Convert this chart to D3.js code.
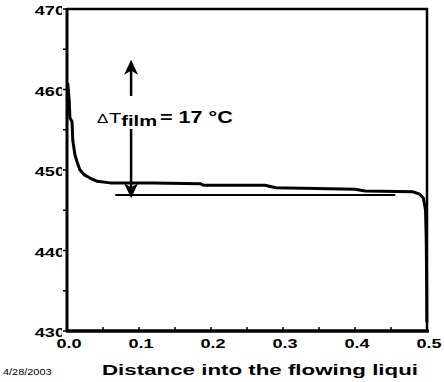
<!DOCTYPE html>
<html>
<head>
<meta charset="utf-8">
<script src="https://cdn.jsdelivr.net/npm/d3@7"></script>
<style>
  body { margin: 0; background: #fff; }
  svg { display: block; font-family: "Liberation Sans", Arial, sans-serif; }
</style>
</head>
<body>
<div id="graph"></div>
<script>
const w = 444;
const h = 382;
const plot = { left: 67, top: 9, right: 427, bottom: 331 };

// temperature along the flow (x = distance, y = temperature reading)
const distance = [0.001, 0.003, 0.004, 0.007, 0.008, 0.011, 0.014, 0.018, 0.024, 0.032, 0.042, 0.06,
  0.12, 0.185, 0.19, 0.275, 0.29, 0.40, 0.414, 0.48, 0.49, 0.495, 0.498, 0.499, 0.4995, 0.4998];
const temperature = [460.8, 458.7, 456.5, 456.0, 453.7, 451.9, 451.0, 450.0, 449.4, 449.0, 448.6, 448.4,
  448.4, 448.3, 448.1, 448.1, 447.8, 447.6, 447.4, 447.3, 447.0, 446.5, 445.0, 441.0, 436.0, 431.1];

// reference film line and the delta-T arrow
const refLine = { from: 0.067, to: 0.456, value: 446.9 };
const arrow = { x: 0.089, top: 463.7, bottom: 446.5, gapTop: 459.2, gapBottom: 455.1 };

const xTicks = [0, 0.1, 0.2, 0.3, 0.4, 0.5];
const xMinor = [0.05, 0.15, 0.25, 0.35, 0.45];
const yTicks = [430, 440, 450, 460, 470];
const yMinor = [435, 445, 455, 465];
const xTitle = "Distance into the flowing liqui";
const dateLabel = "4/28/2003";

const x = d3.scaleLinear().domain([0, 0.5]).range([plot.left, plot.right]);
const y = d3.scaleLinear().domain([430, 470]).range([plot.bottom, plot.top]);

const svg = d3.select("#graph").append("svg").attr("width", w).attr("height", h);

const defs = svg.append("defs");
defs.append("clipPath").attr("id", "ylab-clip")
  .append("rect").attr("x", 0).attr("y", 0).attr("width", 62).attr("height", h);
defs.append("clipPath").attr("id", "ann-clip")
  .append("rect").attr("x", 0).attr("y", 0).attr("width", 240).attr("height", h);

// frame (top + right)
svg.append("path")
  .attr("d", `M${plot.left},${plot.top}H${plot.right}V${plot.bottom}`)
  .attr("fill", "none").attr("stroke", "#000").attr("stroke-width", 2.5);

// curve
const line = d3.line().x((d) => x(d[0])).y((d) => y(d[1]));
svg.append("path")
  .datum(d3.zip(distance, temperature))
  .attr("d", line)
  .attr("fill", "none").attr("stroke", "#000").attr("stroke-width", 3)
  .attr("stroke-linejoin", "round");

// reference line
svg.append("line")
  .attr("x1", x(refLine.from)).attr("x2", x(refLine.to))
  .attr("y1", y(refLine.value)).attr("y2", y(refLine.value))
  .attr("stroke", "#000").attr("stroke-width", 2);

// arrow
const ax = x(arrow.x);
svg.append("line").attr("x1", ax).attr("x2", ax).attr("y1", y(arrow.top) + 10).attr("y2", y(arrow.gapTop))
  .attr("stroke", "#000").attr("stroke-width", 2.5);
svg.append("line").attr("x1", ax).attr("x2", ax).attr("y1", y(arrow.gapBottom)).attr("y2", y(arrow.bottom) - 10)
  .attr("stroke", "#000").attr("stroke-width", 2.5);
const ty = y(arrow.top);
svg.append("path").attr("d", `M${ax},${ty}L${ax - 7},${ty + 15}L${ax},${ty + 11}L${ax + 7},${ty + 15}Z`);
const by = y(arrow.bottom);
svg.append("path").attr("d", `M${ax},${by}L${ax - 7},${by - 15}L${ax},${by - 11}L${ax + 7},${by - 15}Z`);

// annotation text
const ann = svg.append("text").attr("transform", "translate(97,123) scale(1.3,1)").attr("fill", "#000");
ann.append("tspan").attr("font-size", 13).text("\u0394");
ann.append("tspan").attr("font-size", 15.5).attr("dx", 0.5).text("T");
ann.append("tspan").attr("font-size", 15.5).attr("font-weight", "bold").attr("dy", 2.5).text("film");
svg.append("g").attr("clip-path", "url(#ann-clip)")
  .append("text").attr("transform", "translate(160,122.5) scale(1.35,1)")
  .attr("font-size", 16).attr("font-weight", "bold")
  .text("= 17 \u00b0C");

// bottom axis
svg.append("line").attr("x1", plot.left - 1).attr("x2", plot.right + 2)
  .attr("y1", plot.bottom).attr("y2", plot.bottom).attr("stroke", "#000").attr("stroke-width", 3.5);
svg.selectAll(".xt").data(xTicks.concat(xMinor)).enter().append("line")
  .attr("x1", (d) => x(d)).attr("x2", (d) => x(d))
  .attr("y1", plot.bottom).attr("y2", plot.bottom - 4).attr("stroke", "#000").attr("stroke-width", 1.5);
svg.selectAll(".xl").data(xTicks).enter().append("text")
  .attr("transform", (d) => `translate(${x(d) + 2},348) scale(1.45,1)`)
  .attr("text-anchor", "middle").attr("font-size", 12.5).attr("font-weight", "bold")
  .text((d) => d.toFixed(1));

// left axis
svg.append("line").attr("x1", plot.left).attr("x2", plot.left)
  .attr("y1", plot.top - 1).attr("y2", plot.bottom + 1).attr("stroke", "#000").attr("stroke-width", 3);
svg.selectAll(".yt").data(yTicks.concat(yMinor)).enter().append("line")
  .attr("x1", plot.left).attr("x2", plot.left - 4)
  .attr("y1", (d) => y(d)).attr("y2", (d) => y(d)).attr("stroke", "#000").attr("stroke-width", 1.5);
svg.append("g").attr("clip-path", "url(#ylab-clip)")
  .selectAll("text").data(yTicks).enter().append("text")
  .attr("transform", (d) => `translate(65,${y(d) + 6}) scale(1.45,1)`)
  .attr("text-anchor", "end").attr("font-size", 12.5).attr("font-weight", "bold")
  .text((d) => d);

// titles
svg.append("text")
  .attr("transform", `translate(260,375) scale(1.44,1)`)
  .attr("text-anchor", "middle").attr("font-size", 15.5).attr("font-weight", "bold")
  .text(xTitle);
svg.append("text")
  .attr("transform", `translate(3,375) scale(1.15,1)`)
  .attr("font-size", 9.5)
  .text(dateLabel);
</script>
</body>
</html>
